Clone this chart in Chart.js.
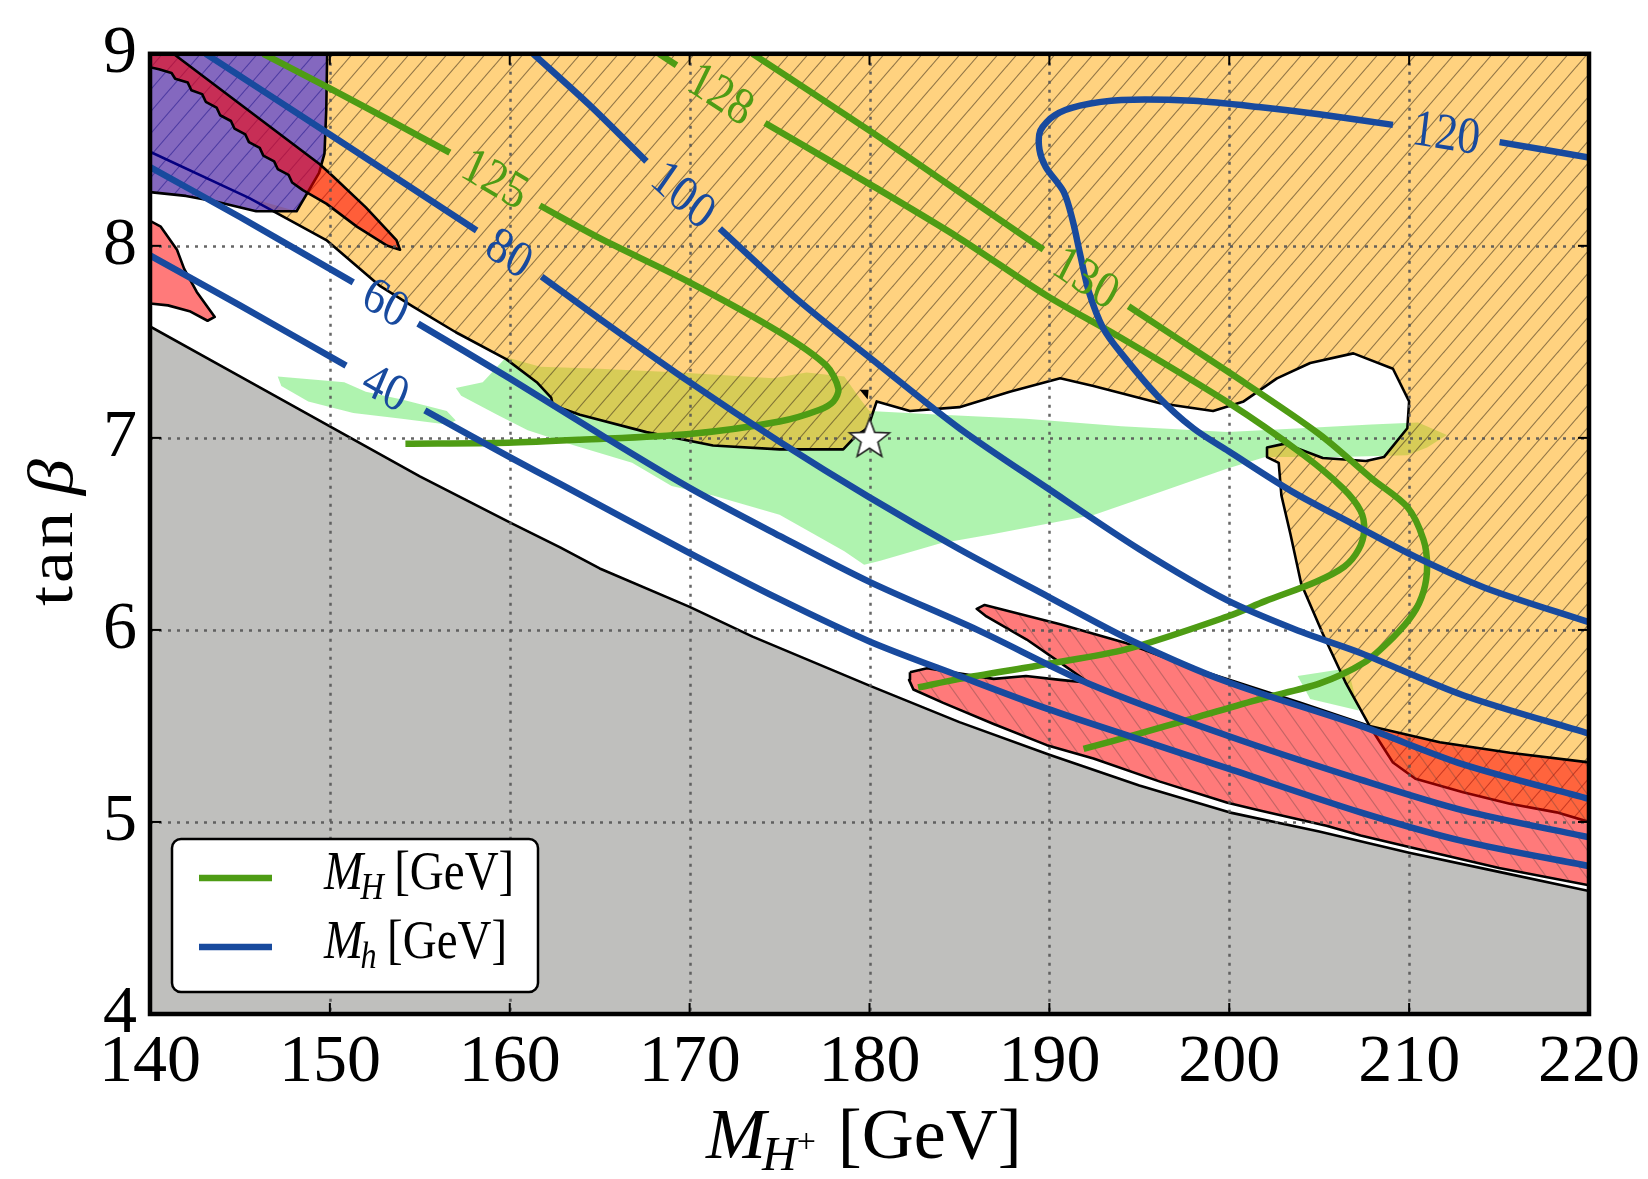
<!DOCTYPE html>
<html>
<head>
<meta charset="utf-8">
<script src="https://cdn.jsdelivr.net/npm/chart.js@4.4.1/dist/chart.umd.min.js"></script>
<style>
  html, body { margin: 0; padding: 0; background: #ffffff; }
  canvas { display: block; }
</style>
</head>
<body>
<canvas id="chart" width="1648" height="1179"></canvas>
<script>
// ---------------------------------------------------------------
// Parameter scan in the (M_H+, tan beta) plane
// ---------------------------------------------------------------
const GREEN = 'rgb(78,156,20)';
const BLUE = 'rgb(24,74,158)';

// axis ticks
const xTicks = [140, 150, 160, 170, 180, 190, 200, 210, 220];
const yTicks = [4, 5, 6, 7, 8, 9];

// contour levels (GeV)
const lightLevels = [40, 60, 80, 100, 120];   // M_h
const heavyLevels = [125, 128, 130];          // M_H

// ---- excluded / allowed regions: [M_H+, tan beta] ----
const grayRegion = [[140,4],[140,7.58],[145,7.32],[150,7.06],[155,6.80],[160,6.56],[162.8,6.43],[165,6.32],
  [170,6.12],[173.5,5.965],[180,5.71],[185,5.52],[190,5.35],[195,5.19],[200,5.05],[205,4.95],[210,4.84],
  [215,4.74],[220,4.64],[220,4]];

const greenLeft = [[147.1,7.32],[150.8,7.29],[152,7.24],[154,7.2],[156.5,7.14],[157.0,7.09],[156.5,7.07],
  [154,7.10],[151.3,7.13],[148.8,7.19],[147.3,7.27]];

const greenMain = [[157.0,7.26],[158.5,7.29],[159.8,7.42],[161.7,7.37],[165,7.36],[169.45,7.34],[174.65,7.31],
  [176.5,7.34],[178.6,7.32],[179.5,7.2],[180.0,7.14],[184,7.12],[188.7,7.10],[194,7.06],[199.9,7.03],[204,7.05],
  [207.9,7.07],[210.5,7.08],[212.1,7.015],[211,6.95],[209.9,6.91],[206,6.90],[202.0,6.90],[199.9,6.84],
  [196.2,6.72],[192.5,6.60],[186.9,6.50],[183.9,6.45],[180.6,6.36],[179.7,6.34],[178.6,6.41],[175,6.60],
  [171.3,6.70],[169,6.75],[166.8,6.87],[163.6,6.96],[161.0,7.04],[159.3,7.12],[157.3,7.22]];

const greenSmall = [[203.8,5.76],[206.6,5.80],[207.2,5.58],[204.5,5.64]];

const orangeRegion = [[140,9],[220,9],[220,5.0],[218.2,5.05],[215.6,5.095],[213.0,5.155],[210.35,5.225],
  [209.1,5.31],[207.8,5.5],[206.5,5.72],[205.2,5.98],[204.0,6.24],[203.4,6.5],[202.9,6.7],[202.75,6.87],
  [202.1,6.90],[202.1,6.95],[203.1,6.97],[205.2,6.895],[207.6,6.88],[208.6,6.90],[209.9,7.05],[210.0,7.19],
  [209.1,7.36],[206.9,7.44],[204.5,7.39],[202.65,7.31],[200.8,7.19],[199.1,7.14],[196.15,7.18],[192.45,7.27],
  [190.6,7.31],[187.8,7.24],[185.0,7.16],[182.25,7.14],[180.4,7.19],[179.9,7.05],[179.29,7.015],[178.54,6.94],
  [175.0,6.94],[171.3,6.96],[167.6,7.03],[163.9,7.12],[162.4,7.17],[162.3,7.21],[161.5,7.29],[159.8,7.41],
  [157.0,7.55],[154.6,7.685],[152.8,7.79],[149.8,8.03],[145.5,8.25],[140,8.49]];

// part of the excluded band that continues beneath the blue patch
const orangeUnderBlue = [[140,8.49],[145.5,8.25],[148.15,8.18],[145.9,8.18],[143.7,8.23],[142,8.26],[140,8.28]];

const blueRegion = [[140,9],[149.85,9],[149.8,8.71],[149.7,8.48],[149.4,8.38],[148.9,8.30],[148.4,8.22],
  [148.15,8.18],[145.9,8.18],[143.7,8.23],[142,8.26],[140,8.28]];

const redBand = [[140,9],[141.3,9],[149.44,8.425],[150.2,8.36],[152,8.2],[153.7,8.03],[153.9,7.98],[153.2,8.0],
  [151.5,8.1],[149.8,8.22],[148.5,8.29],[147.9,8.33],[147.7,8.37],[147.1,8.40],[146.9,8.44],[146.3,8.47],
  [146.1,8.51],[145.5,8.54],[145.3,8.58],[144.7,8.61],[144.5,8.65],[143.9,8.68],[143.7,8.72],[143.1,8.75],
  [142.9,8.79],[142.3,8.81],[142.1,8.85],[141.4,8.87],[141.2,8.90],[140.5,8.92],[140,8.93]];

const redPatch = [[140,8.13],[140.6,8.10],[141.5,7.98],[141.9,7.88],[142.6,7.76],[143.6,7.63],[143.2,7.61],
  [142.2,7.66],[141,7.69],[140,7.70]];

const redStrip = [[182.25,5.78],[183.2,5.80],[186.9,5.745],[188.7,5.76],[190.6,5.74],[192.2,5.725],[190.6,5.83],
  [188.74,5.95],[186.5,6.07],[185.96,6.11],[186.4,6.13],[190.6,6.03],[194.3,5.93],[198.0,5.80],[200,5.74],
  [204,5.62],[207.8,5.50],[211.7,5.415],[215.6,5.36],[220,5.31],[220,4.67],[215,4.76],[210,4.87],[207.3,4.93],
  [205.4,4.98],[201.7,5.06],[199.9,5.10],[196.15,5.21],[192.45,5.33],[189.86,5.40],[186.9,5.51],[184.1,5.62],
  [182.44,5.69],[182.2,5.74]];

const notchMark = [[179.45,7.25],[179.95,7.25],[179.9,7.20]];

// benchmark point
const benchmark = [[180, 7.0]];

// ---- M_h contours (split where the level label sits) ----
const mh40a = [[140,7.95],[145,7.69],[150.9,7.376]];
const mh40b = [[155.28,7.143],[160,6.90],[162.8,6.76],[170,6.40],[175,6.16],[180,5.94],[185,5.76],[189.86,5.59],
  [195,5.43],[199.87,5.28],[207.3,5.05],[213,4.9],[220,4.77]];
const mh60a = [[140,8.41],[145,8.15],[151.3,7.81]];
const mh60b = [[154.9,7.595],[160,7.31],[165,7.02],[170,6.74],[175,6.49],[180,6.25],[186,6.0],[192.2,5.72],
  [199.87,5.45],[207.3,5.22],[213,5.06],[220,4.92]];
const mh80a = [[143.1,9.0],[150,8.58],[158.16,8.08]];
const mh80b = [[161.77,7.84],[165,7.62],[170,7.29],[175,6.98],[180,6.69],[185,6.42],[190,6.17],[194.67,5.94],
  [199.87,5.73],[207.3,5.50],[213,5.30],[220,5.12]];
const mh100a = [[161.3,9.0],[164.47,8.73],[167.6,8.44]];
const mh100b = [[171.68,8.09],[176,7.72],[180.58,7.376],[185,7.05],[189.86,6.74],[195,6.42],[199.87,6.155],
  [204,5.99],[207.3,5.88],[213,5.66],[220,5.46]];
const mh120a = [[220,8.46],[215.03,8.54]];
const mh120b = [[209.1,8.63],[205,8.685],[201.9,8.72],[198.0,8.755],[194.0,8.76],[191.7,8.73],[190.3,8.68],
  [189.5,8.6],[189.45,8.5],[189.8,8.41],[190.8,8.28],[191.3,8.13],[191.7,7.96],[192.2,7.76],[193,7.57],
  [194.0,7.44],[196.0,7.22],[198.0,7.05],[199.97,6.93],[203.5,6.72],[206.9,6.55],[210.36,6.38],[214.2,6.22],
  [220,6.04]];

// ---- M_H contours ----
const mH125a = [[146.3,9.0],[150,8.82],[153.5,8.645],[156.67,8.485]];
const mH125b = [[161.67,8.21],[165,8.04],[170,7.81],[175,7.55],[177.6,7.376],[178.27,7.256],[178.0,7.19],
  [177.2,7.145],[175,7.085],[170,7.02],[163.9,6.99],[159.9,6.975],[154.2,6.97]];
const mH128a = [[168.3,9.0],[169.27,8.94]];
const mH128b = [[174.19,8.64],[180.03,8.32],[185,8.04],[189.86,7.74],[194,7.52],[200,7.18],[204,6.92],
  [206.3,6.74],[207.3,6.62],[207.5,6.52],[207.2,6.42],[206.4,6.33],[204.8,6.25],[202,6.15],[199.9,6.07],
  [194.3,5.90],[189.7,5.82],[185,5.745],[182.7,5.70]];
const mH130a = [[173.5,9.0],[180,8.6],[185,8.28],[189.67,7.98]];
const mH130b = [[194.4,7.685],[200,7.34],[205,7.02],[207.9,6.79],[209.9,6.64],[210.8,6.47],[211.0,6.33],
  [210.8,6.2],[210.2,6.08],[209.1,5.96],[207.5,5.83],[205,5.72],[201.7,5.64],[198,5.54],[195,5.46],[191.9,5.38]];

// inline level labels: placed in the gap between the two pieces of each contour
const contourLabels = [
  { a: mh40a,  b: mh40b,  text: String(lightLevels[0]), color: BLUE },
  { a: mh60a,  b: mh60b,  text: String(lightLevels[1]), color: BLUE },
  { a: mh80a,  b: mh80b,  text: String(lightLevels[2]), color: BLUE },
  { a: mh100a, b: mh100b, text: String(lightLevels[3]), color: BLUE },
  { a: mh120a, b: mh120b, text: String(lightLevels[4]), color: BLUE },
  { a: mH125a, b: mH125b, text: String(heavyLevels[0]), color: GREEN },
  { a: mH128a, b: mH128b, text: String(heavyLevels[1]), color: GREEN },
  { a: mH130a, b: mH130b, text: String(heavyLevels[2]), color: GREEN }
];

// ---------------------------------------------------------------
// fill styles
// ---------------------------------------------------------------
function hatch(base, lineColor, w, h, forward) {
  const c = document.createElement('canvas');
  c.width = w; c.height = h;
  const g = c.getContext('2d');
  g.fillStyle = base;
  g.fillRect(0, 0, w, h);
  g.strokeStyle = lineColor;
  g.lineWidth = 1.1;
  for (const o of [-w, 0, w]) {
    g.beginPath();
    if (forward) { g.moveTo(o - w, 2 * h); g.lineTo(o + 2 * w, -h); }
    else { g.moveTo(o - w, -h); g.lineTo(o + 2 * w, 2 * h); }
    g.stroke();
  }
  return g.createPattern(c, 'repeat');
}

const orangeFill = hatch('rgba(255,165,0,0.5)', 'rgba(70,55,30,0.6)', 19, 22, true);
const redHatchFill = hatch('rgba(255,0,0,0.52)', 'rgba(80,60,60,0.34)', 20, 28, false);

function starImage(r) {
  const s = Math.ceil(r * 2 + 6);
  const c = document.createElement('canvas');
  c.width = s; c.height = s;
  const g = c.getContext('2d');
  g.translate(s / 2, s / 2 + 1.5);
  g.beginPath();
  for (let i = 0; i < 10; i++) {
    const rr = i % 2 ? r * 0.42 : r;
    const a = -Math.PI / 2 + i * Math.PI / 5;
    g.lineTo(rr * Math.cos(a), rr * Math.sin(a));
  }
  g.closePath();
  g.fillStyle = '#ffffff';
  g.fill();
  g.lineWidth = 1.6;
  g.strokeStyle = '#222222';
  g.stroke();
  return c;
}

// ---------------------------------------------------------------
// datasets
// ---------------------------------------------------------------
const toXY = pts => pts.map(([x, y]) => ({ x, y }));

function region(pts, fill, order, outline) {
  const d = toXY(pts);
  d.push({ x: pts[0][0], y: pts[0][1] });
  return {
    kind: 'region', data: d, fill: 'shape', backgroundColor: fill,
    borderColor: outline ? '#000000' : 'rgba(0,0,0,0)', borderWidth: outline ? 2.6 : 1,
    borderJoinStyle: 'round',
    pointRadius: 0, pointHoverRadius: 0, tension: 0, order
  };
}

function contour(pts, color) {
  return {
    kind: 'contour', data: toXY(pts), fill: false, borderColor: color, borderWidth: 6.5,
    borderCapStyle: 'butt', borderJoinStyle: 'round', pointRadius: 0, pointHoverRadius: 0,
    tension: 0.3, order: 10
  };
}

const datasets = [
  region(grayRegion, 'rgb(191,191,189)', 100, true),
  region(greenLeft, 'rgba(144,238,144,0.72)', 90, false),
  region(greenMain, 'rgba(144,238,144,0.72)', 90, false),
  region(greenSmall, 'rgba(144,238,144,0.72)', 90, false),
  region(orangeUnderBlue, orangeFill, 81, false),
  region(orangeRegion, orangeFill, 80, true),
  region(blueRegion, 'rgba(10,0,255,0.5)', 70, true),
  region(redBand, 'rgba(255,0,0,0.55)', 60, true),
  region(redPatch, 'rgba(255,0,0,0.52)', 60, true),
  region(redStrip, redHatchFill, 60, true),
  region(notchMark, '#000000', 55, false),
  contour(mh40a, BLUE), contour(mh40b, BLUE),
  contour(mh60a, BLUE), contour(mh60b, BLUE),
  contour(mh80a, BLUE), contour(mh80b, BLUE),
  contour(mh100a, BLUE), contour(mh100b, BLUE),
  contour(mh120a, BLUE), contour(mh120b, BLUE),
  contour(mH125a, GREEN), contour(mH125b, GREEN),
  contour(mH128a, GREEN), contour(mH128b, GREEN),
  contour(mH130a, GREEN), contour(mH130b, GREEN),
  {
    kind: 'marker', data: toXY(benchmark), showLine: false, pointStyle: starImage(21),
    pointRadius: 21, pointHoverRadius: 21, order: 0
  }
];

// ---------------------------------------------------------------
// decorations drawn on the canvas
// ---------------------------------------------------------------
const SQUEEZE = 0.87;
const SERIF = '"Liberation Serif", "Times New Roman", serif';

function drawGrid(chart) {
  const { ctx, chartArea: a, scales: { x, y } } = chart;
  ctx.save();
  ctx.strokeStyle = 'rgba(85,85,85,0.9)';
  ctx.lineWidth = 2.5;
  ctx.setLineDash([3, 6]);
  for (const v of xTicks) {
    if (v <= x.min || v >= x.max) continue;
    const p = Math.round(x.getPixelForValue(v)) + 0.5;
    ctx.beginPath(); ctx.moveTo(p, a.top); ctx.lineTo(p, a.bottom); ctx.stroke();
  }
  for (const v of yTicks) {
    if (v <= y.min || v >= y.max) continue;
    const p = Math.round(y.getPixelForValue(v)) + 0.5;
    ctx.beginPath(); ctx.moveTo(a.left, p); ctx.lineTo(a.right, p); ctx.stroke();
  }
  ctx.restore();
}

function drawContourLabels(chart) {
  const { ctx, chartArea: area, scales: { x, y } } = chart;
  ctx.save();
  ctx.beginPath();
  ctx.rect(area.left, area.top, area.right - area.left, area.bottom - area.top);
  ctx.clip();
  for (const L of contourLabels) {
    const p = L.a[L.a.length - 1], q = L.b[0];
    const x1 = x.getPixelForValue(p[0]), y1 = y.getPixelForValue(p[1]);
    const x2 = x.getPixelForValue(q[0]), y2 = y.getPixelForValue(q[1]);
    let ang = Math.atan2(y2 - y1, x2 - x1);
    if (ang > Math.PI / 2) ang -= Math.PI;
    if (ang <= -Math.PI / 2) ang += Math.PI;
    const th = Math.atan(SQUEEZE * Math.tan(ang));
    ctx.save();
    ctx.translate((x1 + x2) / 2, (y1 + y2) / 2);
    ctx.scale(SQUEEZE, 1);
    ctx.rotate(th);
    ctx.font = '52px ' + SERIF;
    ctx.fillStyle = L.color;
    ctx.textAlign = 'center';
    ctx.textBaseline = 'middle';
    ctx.fillText(L.text, 0, 2);
    ctx.restore();
  }
  ctx.restore();
}

function drawFrame(chart) {
  const { ctx, chartArea: a, scales: { x, y } } = chart;
  ctx.save();
  ctx.strokeStyle = '#000000';
  ctx.lineWidth = 2;
  const L = 11;
  for (const v of xTicks) {
    const p = x.getPixelForValue(v);
    ctx.beginPath(); ctx.moveTo(p, a.bottom); ctx.lineTo(p, a.bottom - L); ctx.stroke();
    ctx.beginPath(); ctx.moveTo(p, a.top); ctx.lineTo(p, a.top + L); ctx.stroke();
  }
  for (const v of yTicks) {
    const p = y.getPixelForValue(v);
    ctx.beginPath(); ctx.moveTo(a.left, p); ctx.lineTo(a.left + L, p); ctx.stroke();
    ctx.beginPath(); ctx.moveTo(a.right, p); ctx.lineTo(a.right - L, p); ctx.stroke();
  }
  ctx.lineWidth = 4.5;
  ctx.strokeRect(a.left, a.top, a.right - a.left, a.bottom - a.top);
  ctx.restore();
}

// text run: pieces of [text, font, dx, dy]
function drawRun(ctx, x0, y0, squeeze, pieces) {
  ctx.save();
  ctx.translate(x0, y0);
  ctx.scale(squeeze, 1);
  ctx.textBaseline = 'alphabetic';
  ctx.textAlign = 'left';
  let cx = 0;
  for (const [t, font, dx, dy] of pieces) {
    ctx.font = font;
    cx += dx;
    ctx.fillText(t, cx, dy);
    cx += ctx.measureText(t).width;
  }
  ctx.restore();
}

const legendItems = [
  { color: GREEN, sub: 'H' },
  { color: BLUE, sub: 'h' }
];

function drawLegend(chart) {
  const ctx = chart.ctx;
  ctx.save();
  ctx.beginPath();
  ctx.roundRect(172, 839, 366, 153, 9);
  ctx.fillStyle = '#ffffff';
  ctx.fill();
  ctx.lineWidth = 2.5;
  ctx.strokeStyle = '#000000';
  ctx.stroke();
  legendItems.forEach((it, i) => {
    const yy = 878 + i * 69;
    ctx.strokeStyle = it.color;
    ctx.lineWidth = 6.5;
    ctx.beginPath(); ctx.moveTo(199, yy); ctx.lineTo(272, yy); ctx.stroke();
    ctx.fillStyle = '#000000';
    drawRun(ctx, 324, yy + 11, SQUEEZE, [
      ['M', 'italic 54px ' + SERIF, 0, 0],
      [it.sub, 'italic 37px ' + SERIF, -3, 10],
      ['[GeV]', '54px ' + SERIF, 12, 0]
    ]);
  });
  ctx.restore();
}

function drawAxisTitles(chart) {
  const ctx = chart.ctx;
  ctx.save();
  ctx.fillStyle = '#000000';
  // x axis: M_{H^+} [GeV]
  drawRun(ctx, 706, 1158, 1.0, [
    ['M', 'italic 72px ' + SERIF, 0, 0],
    ['H', 'italic 48px ' + SERIF, -4, 12],
    ['+', '34px ' + SERIF, 0, -6],
    ['[GeV]', '72px ' + SERIF, 22, 0]
  ]);
  // y axis: tan beta
  ctx.save();
  ctx.translate(72, 606);
  ctx.scale(SQUEEZE, 1);
  ctx.rotate(-Math.PI / 2);
  ctx.textBaseline = 'alphabetic';
  ctx.textAlign = 'left';
  ctx.font = '72px ' + SERIF;
  if ('letterSpacing' in ctx) ctx.letterSpacing = '3px';
  ctx.fillText('tan', 0, 0);
  const w = ctx.measureText('tan').width;
  if ('letterSpacing' in ctx) ctx.letterSpacing = '0px';
  ctx.font = 'italic 72px ' + SERIF;
  ctx.fillText('\u03B2', w + 14, 0);
  ctx.restore();
  ctx.restore();
}

const decorations = {
  id: 'decorations',
  beforeDatasetsDraw(chart) { chart.$gridDone = false; },
  beforeDatasetDraw(chart, args) {
    const ds = chart.data.datasets[args.index];
    if (ds && ds.kind !== 'region' && !chart.$gridDone) {
      drawGrid(chart);
      chart.$gridDone = true;
    }
  },
  afterDatasetsDraw(chart) {
    if (!chart.$gridDone) { drawGrid(chart); chart.$gridDone = true; }
    drawContourLabels(chart);
    drawFrame(chart);
    drawLegend(chart);
  },
  afterDraw(chart) { drawAxisTitles(chart); }
};

new Chart(document.getElementById('chart'), {
  type: 'line',
  data: { datasets },
  options: {
    responsive: false,
    maintainAspectRatio: false,
    devicePixelRatio: 1,
    animation: false,
    events: [],
    layout: { padding: { left: 0, top: 45, right: 59, bottom: 0 } },
    plugins: { legend: { display: false }, tooltip: { enabled: false }, title: { display: false } },
    scales: {
      x: {
        type: 'linear', min: xTicks[0], max: xTicks[xTicks.length - 1],
        afterBuildTicks(scale) { scale.ticks = xTicks.map(v => ({ value: v })); },
        afterFit(scale) { scale.height = 165; },
        grid: { display: false, drawTicks: false },
        border: { display: false },
        ticks: { color: '#000000', padding: 8, maxRotation: 0, autoSkip: false,
                 font: { family: '"Liberation Serif"', size: 68 } }
      },
      y: {
        type: 'linear', min: yTicks[0], max: yTicks[yTicks.length - 1],
        afterBuildTicks(scale) { scale.ticks = yTicks.map(v => ({ value: v })); },
        afterFit(scale) { scale.width = 150; },
        grid: { display: false, drawTicks: false },
        border: { display: false },
        ticks: { color: '#000000', padding: 13, autoSkip: false,
                 font: { family: '"Liberation Serif"', size: 68 } }
      }
    }
  },
  plugins: [decorations]
});
</script>
</body>
</html>
